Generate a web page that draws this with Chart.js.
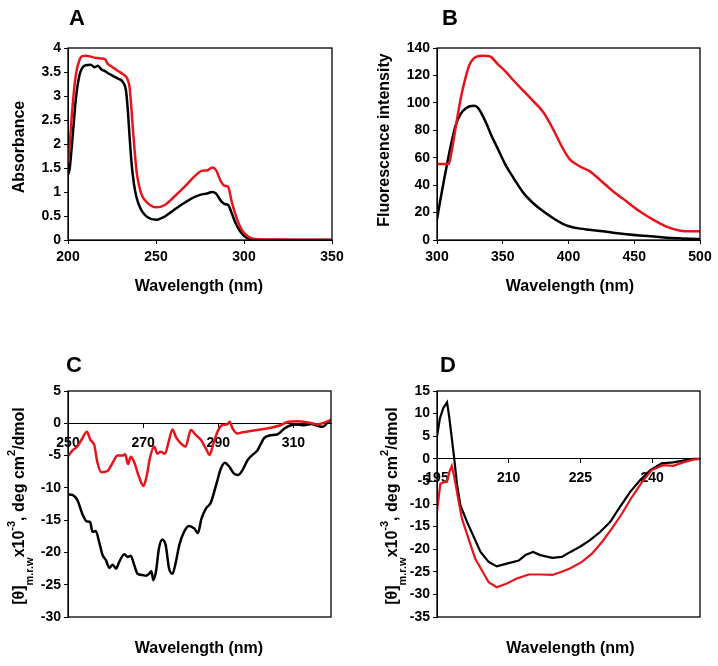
<!DOCTYPE html>
<html>
<head>
<meta charset="utf-8">
<script src="https://cdn.jsdelivr.net/npm/chart.js@4.4.1/dist/chart.umd.min.js"></script>
<style>
  html, body { margin: 0; padding: 0; background: #fff; }
  #wrap { position: relative; width: 718px; height: 666px; }
  canvas { position: absolute; }
</style>
</head>
<body>
<div id="wrap">
  <canvas id="panelA" width="359" height="300" style="left:0;top:0"></canvas>
  <canvas id="panelB" width="359" height="300" style="left:359px;top:0"></canvas>
  <canvas id="panelC" width="359" height="366" style="left:0;top:300px"></canvas>
  <canvas id="panelD" width="359" height="366" style="left:359px;top:300px"></canvas>
</div>
<script>
// A : absorbance UV
const aWavelength = [200, 201, 202.5, 204.5, 206.5, 208, 210, 213, 215, 217, 219, 221, 222.5, 224.5, 226.5,
  228.5, 231, 233, 234, 235, 236, 237, 238, 239, 240, 242, 245, 250, 255, 260, 266, 272, 276, 279, 282,
  284, 287, 289, 291, 293, 295, 298, 301, 304, 308, 315, 330, 350];
const aBlack = [1.36, 1.5, 2.1, 2.95, 3.43, 3.58, 3.64, 3.65, 3.6, 3.63, 3.55, 3.52, 3.48, 3.44, 3.4,
  3.36, 3.3, 3.1, 2.7, 2.15, 1.65, 1.3, 1.05, 0.88, 0.76, 0.6, 0.48, 0.42, 0.49, 0.62, 0.77, 0.9, 0.95, 0.97, 1.0,
  0.97, 0.81, 0.75, 0.73, 0.56, 0.37, 0.17, 0.06, 0.015, 0.003, 0, 0, 0];
const aRed = [1.6, 2.0, 2.75, 3.45, 3.75, 3.83, 3.84, 3.82, 3.8, 3.79, 3.78, 3.77, 3.67, 3.62, 3.57,
  3.52, 3.46, 3.4, 3.33, 3.18, 2.75, 2.25, 1.8, 1.42, 1.2, 0.93, 0.78, 0.68, 0.73, 0.89, 1.1, 1.33, 1.44, 1.45, 1.51,
  1.46, 1.21, 1.13, 1.11, 0.8, 0.55, 0.26, 0.11, 0.04, 0.015, 0.01, 0.005, 0.005];
const aTicksX = [200, 250, 300, 350];
const aTicksY = [0, 0.5, 1, 1.5, 2, 2.5, 3, 3.5, 4];

// B : fluorescence
const bWavelength = [300, 302.5, 305, 309, 311, 314, 318, 322, 325, 328, 331, 334, 338, 341, 346, 352, 358,
  366, 373, 381, 389, 395, 401, 409, 416, 424, 434, 444, 454, 465, 475, 485, 492, 500];
const bBlack = [15, 29, 42, 62, 71, 83, 92, 96, 97.5, 97.8, 96.5, 92, 84, 77, 67, 55, 45.5,
  34, 27, 20.7, 15.5, 12.2, 9.8, 8.3, 7.5, 6.6, 5.3, 4.2, 3.3, 2.5, 1.7, 1.2, 0.9, 0.7];
const bRed = [55.5, 55.5, 55.5, 55.5, 64, 81, 103, 119.5, 128.5, 132.5, 134, 134.4, 134.2, 133.5, 128.5, 123, 116.5,
  108.5, 101.5, 93, 79.5, 68, 58.8, 53.5, 50.2, 43.8, 35.4, 28.2, 21, 14.5, 9.6, 6.8, 6.3, 6.3];
const bTicksX = [300, 350, 400, 450, 500];
const bTicksY = [0, 20, 40, 60, 80, 100, 120, 140];

// C : dichroisme circulaire, proche UV
const cBlackX = [250, 251.2, 252.5, 253.8, 255, 255.9, 256.5, 257.4, 258.3, 259.2, 260.1, 261, 261.9, 262.8, 263.6,
  265, 265.9, 266.7, 267.6, 268.5, 269.8, 270.7, 271.6, 272.2, 272.7, 273.4, 274.2, 275.1, 276, 276.9,
  277.8, 278.7, 279.6, 280.9, 282.2, 283.6, 284.6, 285.5, 286.7, 288, 289.4, 290.7, 291.7, 292.9, 294.2,
  295.3, 296.4, 297.8, 299.1, 300.4, 302.2, 303.6, 305.8, 307.6, 309.3, 311.1, 312.9, 314.7, 316.5, 317.8, 319.1, 320];
const cBlack = [-11.0, -11.1, -11.9, -14.0, -15.2, -15.3, -16.8, -16.7, -18.4, -20.4, -21.2, -22.4, -21.9, -22.5, -21.5,
  -20.3, -20.7, -20.5, -21.9, -23.3, -23.5, -23.6, -23.3, -22.9, -24.3, -23.0, -19.4, -18.0, -18.9, -22.5,
  -23.3, -21.5, -18.9, -16.8, -15.9, -16.3, -17.0, -14.8, -13.2, -12.3, -9.6, -7.0, -6.1, -6.7, -7.8,
  -8.0, -7.3, -5.7, -4.9, -4.2, -2.3, -1.9, -1.7, -0.8, -0.3, -0.2, -0.3, -0.1, -0.4, -0.55, 0.1, 0.5];
const cRedX = [250, 251.2, 252.5, 253.8, 255, 256, 257, 257.8, 258.9, 260.5, 261.8, 263.2, 264.5, 265.2, 266,
  266.7, 267.6, 268.9, 270.1, 271, 271.8, 272.9, 273.8, 274.7, 275.8, 276.9, 277.8, 278.7, 280, 281.3,
  282.7, 284, 285.4, 286.7, 287.7, 288.7, 290, 291.1, 292.4, 293, 293.8, 295.1, 296.4, 298.6, 301.3,
  304, 306.7, 308.4, 311.1, 313.8, 316.5, 319.1, 320];
const cRed = [-5.1, -4.2, -3.6, -2.35, -1.3, -2.6, -3.4, -6.0, -7.6, -7.4, -6.2, -5.0, -5.0, -4.8, -6.3,
  -5.2, -6.0, -8.3, -9.7, -8.0, -5.4, -3.6, -4.7, -4.4, -4.7, -2.6, -0.95, -2.1, -3.1, -3.6,
  -1.05, -1.8, -2.6, -3.9, -4.9, -3.1, -1.05, -0.27, -0.17, 0.24, -0.8, -1.6, -1.4, -1.2, -0.95,
  -0.7, -0.27, 0.2, 0.3, 0.13, -0.17, 0.3, 0.55];
const cTicksX = [250, 270, 290, 310];
const cTicksY = [-30, -25, -20, -15, -10, -5, 0, 5];

// D : dichroisme circulaire, UV lointain
const dBlackX = [195, 195.6, 196.3, 197.1, 197.6, 198.1, 198.6, 199.2, 199.9, 201.3, 202.7, 204.1, 205.8, 207.5, 209.6,
  212.1, 213.5, 215.1, 216.6, 219.1, 221.1, 222.9, 225, 227, 229.1, 231.2, 233.3, 235.4, 237.5, 239.6,
  242, 244.4, 246.5, 248.6, 250];
const dBlack = [4.9, 8.9, 11.2, 12.5, 8.9, 4.5, 0.1, -5.8, -10.3, -14.0, -17.3, -20.6, -22.8, -23.8, -23.2,
  -22.5, -21.3, -20.6, -21.3, -21.9, -21.7, -20.6, -19.4, -18.0, -16.2, -14.0, -10.6, -7.3, -4.7, -2.5,
  -1.0, -0.8, -0.4, 0, 0];
const dRedX = [195, 195.7, 196.4, 197.1, 197.6, 198.1, 198.6, 199.3, 200.2, 201.6, 203, 204.4, 205.8, 207.5, 209.6,
  211.7, 214.2, 216.6, 219.1, 221.1, 222.9, 225.3, 227.4, 229.5, 231.6, 233.7, 235.8, 237.9, 239.9, 242.3,
  244.4, 246.5, 248.6, 250];
const dRed = [-11.7, -5.5, -5.2, -5.1, -2.9, -1.6, -4.0, -8.1, -13.2, -17.7, -22.1, -24.7, -27.3, -28.4, -27.6,
  -26.5, -25.6, -25.6, -25.7, -25.0, -24.2, -22.8, -21.0, -18.4, -15.4, -12.1, -8.4, -5.1, -2.5, -1.4,
  -1.55, -0.8, -0.2, 0];
const dTicksX = [195, 210, 225, 240];
const dTicksY = [-35, -30, -25, -20, -15, -10, -5, 0, 5, 10, 15];

const FONT = "'Liberation Sans', Arial, sans-serif";
const RED = '#e8141b';
const tickFont = { family: FONT, size: 14, weight: 'bold' };

// Titre de l'axe y pour les spectres CD (indice + exposants)
const cdTitle = [
  { t: '[\u03B8]', size: 16, shift: 0 },
  { t: 'm.r.w', size: 11, shift: 9 },
  { t: 'x10', size: 16, shift: 0 },
  { t: '-3', size: 11, shift: -9 },
  { t: ', deg cm', size: 16, shift: 0 },
  { t: '2', size: 11, shift: -9 },
  { t: '/dmol', size: 16, shift: 0 }
];

// Textes de chaque panneau (gardés hors des options Chart.js)
const panelTexts = {
  panelA: { letter: 'A', letterX: 77, letterY: 25, xTitleX: 199, xTitleY: 291, yTitleX: 23.5, yTitleY: 147,
    yTitle: [{ t: 'Absorbance', size: 16, shift: 0 }] },
  panelB: { letter: 'B', letterX: 91, letterY: 25, xTitleX: 211, xTitleY: 291, yTitleX: 30, yTitleY: 140,
    yTitle: [{ t: 'Fluorescence intensity', size: 16, shift: 0 }] },
  panelC: { letter: 'C', letterX: 74, letterY: 72, xTitleX: 199, xTitleY: 353, yTitleX: 24, yTitleY: 206,
    yTitle: cdTitle },
  panelD: { letter: 'D', letterX: 89, letterY: 72, xTitleX: 211.5, xTitleY: 353, yTitleX: 38, yTitleY: 206,
    yTitle: cdTitle }
};

function toPoints(xs, ys) {
  return xs.map((x, i) => ({ x: x, y: ys[i] }));
}

function buildAxis(tickValues, min, max, opts) {
  return {
    type: 'linear',
    min: min,
    max: max,
    position: opts.position,
    afterBuildTicks: (scale) => { scale.ticks = tickValues.map(v => ({ value: v })); },
    afterFit: (scale) => {
      if (opts.width) scale.width = opts.width;
      if (opts.height) scale.height = opts.height;
    },
    ticks: { color: '#000', font: tickFont, padding: opts.padding, maxRotation: 0, autoSkip: false,
      callback: (v) => String(v) },
    grid: { drawOnChartArea: false, drawTicks: true, tickLength: 4, color: '#000' },
    border: { color: '#000', width: 1 }
  };
}

function line(points, color, width, smooth) {
  return {
    data: points,
    borderColor: color,
    borderWidth: width,
    pointRadius: 0,
    fill: false,
    tension: 0,
    cubicInterpolationMode: smooth ? 'monotone' : 'default'
  };
}

// Plugin : cadre, lettre du panneau, titres des axes
const panelTextPlugin = {
  id: 'panelText',
  afterDraw(chart) {
    const o = panelTexts[chart.canvas.id];
    const ctx = chart.ctx;
    const { left, top, right, bottom } = chart.chartArea;
    ctx.save();
    ctx.strokeStyle = '#000';
    ctx.lineWidth = 1.3;
    ctx.strokeRect(left, top, right - left, bottom - top);

    ctx.fillStyle = '#000';
    ctx.textAlign = 'center';
    ctx.textBaseline = 'alphabetic';
    ctx.font = 'bold 22px ' + FONT;
    ctx.fillText(o.letter, o.letterX, o.letterY);

    ctx.font = 'bold 16px ' + FONT;
    ctx.fillText('Wavelength (nm)', o.xTitleX, o.xTitleY);

    ctx.translate(o.yTitleX, o.yTitleY);
    ctx.rotate(-Math.PI / 2);
    ctx.textAlign = 'left';
    let total = 0;
    const widths = o.yTitle.map(p => {
      ctx.font = 'bold ' + p.size + 'px ' + FONT;
      const w = ctx.measureText(p.t).width;
      total += w;
      return w;
    });
    let cx = -total / 2;
    o.yTitle.forEach((p, i) => {
      ctx.font = 'bold ' + p.size + 'px ' + FONT;
      ctx.fillText(p.t, cx, p.shift);
      cx += widths[i];
    });
    ctx.restore();
  }
};

function makeChart(id, datasets, scales, padding) {
  new Chart(document.getElementById(id), {
    type: 'line',
    data: { datasets: datasets },
    options: {
      responsive: false,
      animation: false,
      layout: { padding: padding },
      scales: scales,
      plugins: {
        legend: { display: false },
        tooltip: { enabled: false }
      }
    },
    plugins: [panelTextPlugin]
  });
}

// Panneau A
makeChart('panelA', [
  line(toPoints(aWavelength, aRed), RED, 2.5, true),
  line(toPoints(aWavelength, aBlack), '#000', 2.5, true)
], {
  x: buildAxis(aTicksX, 200, 350, { position: 'bottom', height: 60, padding: 5 }),
  y: buildAxis(aTicksY, 0, 4, { position: 'left', width: 68, padding: 3 })
}, { top: 48, right: 27, left: 0, bottom: 0 });

// Panneau B
makeChart('panelB', [
  line(toPoints(bWavelength, bRed), RED, 2.5, true),
  line(toPoints(bWavelength, bBlack), '#000', 2.5, true)
], {
  x: buildAxis(bTicksX, 300, 500, { position: 'bottom', height: 60, padding: 5 }),
  y: buildAxis(bTicksY, 0, 140, { position: 'left', width: 78, padding: 3 })
}, { top: 48, right: 18, left: 0, bottom: 0 });

// Panneau C
makeChart('panelC', [
  line(toPoints(cRedX, cRed), RED, 2.5, true),
  line(toPoints(cBlackX, cBlack), '#000', 2.5, true)
], {
  x: buildAxis(cTicksX, 250, 320, { position: { y: 0 }, padding: 7 }),
  y: buildAxis(cTicksY, -30, 5, { position: 'left', width: 68, padding: 3 })
}, { top: 91, right: 28, left: 0, bottom: 49 });

// Panneau D
makeChart('panelD', [
  line(toPoints(dRedX, dRed), RED, 2.2, false),
  line(toPoints(dBlackX, dBlack), '#000', 2.2, false)
], {
  x: buildAxis(dTicksX, 195, 250, { position: { y: 0 }, padding: 7 }),
  y: buildAxis(dTicksY, -35, 15, { position: 'left', width: 78, padding: 3 })
}, { top: 91, right: 18, left: 0, bottom: 49 });
</script>
</body>
</html>
